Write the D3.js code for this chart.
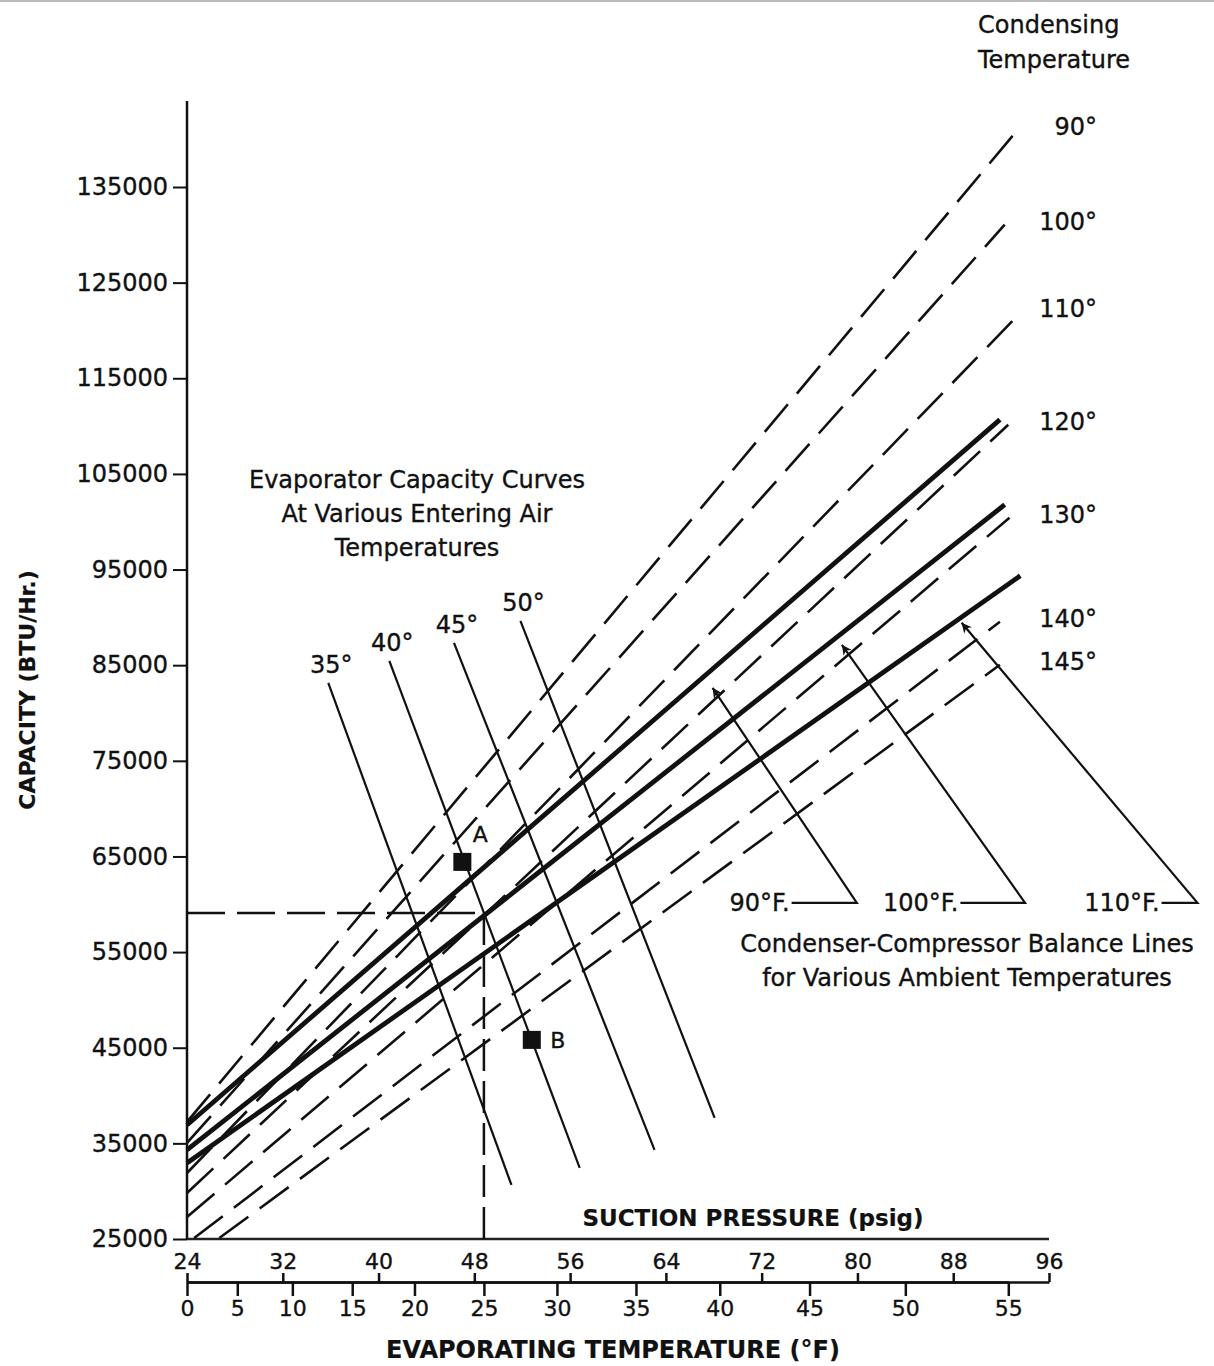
<!DOCTYPE html>
<html>
<head>
<meta charset="utf-8">
<script src="https://cdn.jsdelivr.net/npm/d3@7"></script>
<style>
  body { margin: 0; background: #fff; }
  text { font-family: "DejaVu Sans", sans-serif; fill: #111; stroke: #111; stroke-width: 0.35px; }
  .bold { font-weight: bold; stroke-width: 0.2px; }
</style>
</head>
<body>
<svg id="chart" width="1214" height="1366"></svg>
<script>
// axis values
const capacityTicks = [25000, 35000, 45000, 55000, 65000, 75000, 85000, 95000, 105000, 115000, 125000, 135000];
const pressureTicks = [24, 32, 40, 48, 56, 64, 72, 80, 88, 96];
const evapTemps = [0, 5, 10, 15, 20, 25, 30, 35, 40, 45, 50, 55];
const evapTempPsig = [24.0, 28.2, 32.8, 37.8, 43.0, 48.8, 54.9, 61.5, 68.5, 76.0, 84.0, 92.6];
const capTop = 144000;

// condensing temperature lines (dashed)
const condTemps = [90, 100, 110, 120, 130, 140, 145];
const condStartPsig = [24, 24, 24, 24, 24, 24.6, 26.7];
const condStartCap = [37240, 35040, 31900, 29810, 27300, 25100, 25100];
const condEndPsig = [93.4, 92.3, 93.7, 92.6, 92.7, 91.9, 91.9];
const condEndCap = [141000, 131060, 121960, 110140, 100420, 89540, 85040];

// condenser-compressor balance lines (thick)
const ambientTemps = [90, 100, 110];
const balStartCap = [36920, 34310, 32950];
const balEndPsig = [91.9, 92.3, 93.6];
const balEndCap = [110670, 101780, 94350];

// evaporator capacity curves
const airTemps = [35, 40, 45, 50];
const evapTopPsig = [35.8, 40.9, 46.3, 51.85];
const evapTopCap = [83160, 85460, 87340, 89640];
const evapBotPsig = [51.1, 56.8, 63.05, 68.07];
const evapBotCap = [30650, 32430, 34310, 37660];

// marked points and operating point
const pointNames = ['A', 'B'];
const pointPsig = [47.0, 52.8];
const pointCap = [64430, 45820];
const opTemp = 25;
const opCap = 59100;

// balance line callouts
const arrowTipPsig = [67.9, 78.7, 88.7];
const arrowTipCap = [82630, 87130, 89430];
const arrowElbowPsig = [79.95, 94.0, 108.4];
const arrowStartPsig = [74.5, 88.6, 105.4];
const arrowCap = 60150;

const svg = d3.select('#chart');

const x = d3.scaleLinear().domain([24, 96]).range([187, 1049]);
const y = d3.scaleLinear().domain([25000, 135000]).range([1239, 187]);
const tx = d3.scaleLinear().domain(evapTemps).range(evapTempPsig.map(x));
const line = d3.line().x(d => x(d[0])).y(d => y(d[1]));

svg.append('line').attr('x1', 0).attr('x2', 1214).attr('y1', 1).attr('y2', 1)
  .attr('stroke', '#bbb').attr('stroke-width', 2);

svg.append('defs').append('marker')
  .attr('id', 'arrow').attr('viewBox', '0 0 10 10')
  .attr('refX', 10).attr('refY', 5)
  .attr('markerWidth', 18).attr('markerHeight', 10)
  .attr('markerUnits', 'userSpaceOnUse').attr('orient', 'auto')
  .append('path').attr('d', 'M0,0 L10,5 L0,10 L3,5 z').attr('fill', '#111');

// y axis
const yAxis = svg.append('g').attr('transform', `translate(${x(24)},0)`)
  .call(d3.axisLeft(y).tickValues(capacityTicks).tickSize(14).tickPadding(5).tickFormat(d3.format('d')));
yAxis.select('.domain').remove();
yAxis.selectAll('.tick line').attr('stroke', '#111').attr('stroke-width', 2);
yAxis.selectAll('.tick text').attr('font-size', 24).attr('font-family', '"DejaVu Sans", sans-serif');
svg.append('line').attr('x1', x(24)).attr('x2', x(24)).attr('y1', y(25000)).attr('y2', y(capTop))
  .attr('stroke', '#111').attr('stroke-width', 2.5);

// plot base line
svg.append('line').attr('x1', x(24)).attr('x2', x(96)).attr('y1', y(25000)).attr('y2', y(25000))
  .attr('stroke', '#222').attr('stroke-width', 2.5);

// suction pressure / evaporating temperature scale
const scaleY = 1282;
const pAxis = svg.append('g').attr('transform', `translate(0,${scaleY})`)
  .call(d3.axisTop(x).tickValues(pressureTicks).tickSize(9).tickSizeOuter(0).tickPadding(4));
const tAxis = svg.append('g').attr('transform', `translate(0,${scaleY})`)
  .call(d3.axisBottom(tx).tickValues(evapTemps).tickSize(14).tickSizeOuter(0).tickPadding(4));
[pAxis, tAxis].forEach(g => {
  g.selectAll('.domain').attr('stroke', '#111').attr('stroke-width', 2.5);
  g.selectAll('.tick line').attr('stroke', '#111').attr('stroke-width', 2.5);
  g.selectAll('.tick text').attr('font-size', 22).attr('font-family', '"DejaVu Sans", sans-serif');
});

// condensing temperature lines
const condRows = condTemps.map((t, i) => ({
  t, pts: [[condStartPsig[i], condStartCap[i]], [condEndPsig[i], condEndCap[i]]]
}));
svg.append('g').selectAll('path').data(condRows).enter().append('path')
  .attr('d', d => line(d.pts)).attr('fill', 'none')
  .attr('stroke', '#111').attr('stroke-width', 2.6).attr('stroke-dasharray', '36,14');
svg.append('g').selectAll('text').data(condRows).enter().append('text')
  .attr('x', 1097).attr('y', d => y(d.pts[1][1]) - 3)
  .attr('text-anchor', 'end').attr('dominant-baseline', 'central')
  .attr('font-size', 24).text(d => d.t + '°');

// balance lines
const balRows = ambientTemps.map((t, i) => ({
  t, pts: [[24, balStartCap[i]], [balEndPsig[i], balEndCap[i]]]
}));
svg.append('g').selectAll('path').data(balRows).enter().append('path')
  .attr('d', d => line(d.pts)).attr('fill', 'none')
  .attr('stroke', '#111').attr('stroke-width', 4.8);

// evaporator capacity curves
const evapRows = airTemps.map((t, i) => ({
  t, pts: [[evapTopPsig[i], evapTopCap[i]], [evapBotPsig[i], evapBotCap[i]]]
}));
svg.append('g').selectAll('path').data(evapRows).enter().append('path')
  .attr('d', d => line(d.pts)).attr('fill', 'none')
  .attr('stroke', '#111').attr('stroke-width', 2.2);
svg.append('g').selectAll('text').data(evapRows).enter().append('text')
  .attr('x', d => x(d.pts[0][0]) + 3).attr('y', d => y(d.pts[0][1]) - 18)
  .attr('text-anchor', 'middle').attr('dominant-baseline', 'central')
  .attr('font-size', 24).text(d => d.t + '°');

// operating point reference lines
const opPsig = d3.scaleLinear().domain(evapTemps).range(evapTempPsig)(opTemp);
svg.append('path')
  .attr('d', line([[24, opCap], [opPsig, opCap]]))
  .attr('fill', 'none').attr('stroke', '#111').attr('stroke-width', 2.5).attr('stroke-dasharray', '38,12');
svg.append('path')
  .attr('d', line([[opPsig, opCap], [opPsig, 25000]]))
  .attr('fill', 'none').attr('stroke', '#111').attr('stroke-width', 2.5).attr('stroke-dasharray', '32,10');

// points A and B
const ptRows = pointNames.map((n, i) => ({ n, p: pointPsig[i], c: pointCap[i] }));
svg.append('g').selectAll('rect').data(ptRows).enter().append('rect')
  .attr('x', d => x(d.p) - 9).attr('y', d => y(d.c) - 9)
  .attr('width', 18).attr('height', 18).attr('fill', '#111');
svg.append('text').attr('x', x(pointPsig[0]) + 18).attr('y', y(pointCap[0]) - 27)
  .attr('text-anchor', 'middle').attr('dominant-baseline', 'central').attr('font-size', 22).text('A');
svg.append('text').attr('x', x(pointPsig[1]) + 26).attr('y', y(pointCap[1]) + 1)
  .attr('text-anchor', 'middle').attr('dominant-baseline', 'central').attr('font-size', 22).text('B');

// callout arrows
const arrowRows = ambientTemps.map((t, i) => ({
  t, pts: [[arrowStartPsig[i], arrowCap], [arrowElbowPsig[i], arrowCap], [arrowTipPsig[i], arrowTipCap[i]]]
}));
svg.append('g').selectAll('path').data(arrowRows).enter().append('path')
  .attr('d', d => line(d.pts)).attr('fill', 'none')
  .attr('stroke', '#111').attr('stroke-width', 2.2).attr('marker-end', 'url(#arrow)');
svg.append('g').selectAll('text').data(arrowRows).enter().append('text')
  .attr('x', d => x(d.pts[0][0]) - 2).attr('y', d => y(arrowCap))
  .attr('text-anchor', 'end').attr('dominant-baseline', 'central')
  .attr('font-size', 24).text(d => d.t + '°F.');

// annotations
const note = (lines, cx, cy, anchor, size, dy) => {
  const t = svg.append('text').attr('text-anchor', anchor).attr('font-size', size);
  lines.forEach((s, i) => t.append('tspan').attr('x', cx).attr('y', cy + i * dy)
    .attr('dominant-baseline', 'central').text(s));
};
note(['Evaporator Capacity Curves', 'At Various Entering Air', 'Temperatures'], 417, 480, 'middle', 24, 34);
note(['Condenser-Compressor Balance Lines', 'for Various Ambient Temperatures'], 967, 944, 'middle', 24, 34);
note(['Condensing', 'Temperature'], 978, 25, 'start', 24, 35);

// axis titles
svg.append('text').attr('class', 'bold').attr('x', 753).attr('y', 1218)
  .attr('text-anchor', 'middle').attr('dominant-baseline', 'central').attr('font-size', 23)
  .text('SUCTION PRESSURE (psig)');
svg.append('text').attr('class', 'bold').attr('x', 613).attr('y', 1350)
  .attr('text-anchor', 'middle').attr('dominant-baseline', 'central').attr('font-size', 24)
  .text('EVAPORATING TEMPERATURE (°F)');
svg.append('text').attr('class', 'bold')
  .attr('transform', 'translate(27,690) rotate(-90)')
  .attr('text-anchor', 'middle').attr('dominant-baseline', 'central').attr('font-size', 22)
  .text('CAPACITY (BTU/Hr.)');
</script>
</body>
</html>
